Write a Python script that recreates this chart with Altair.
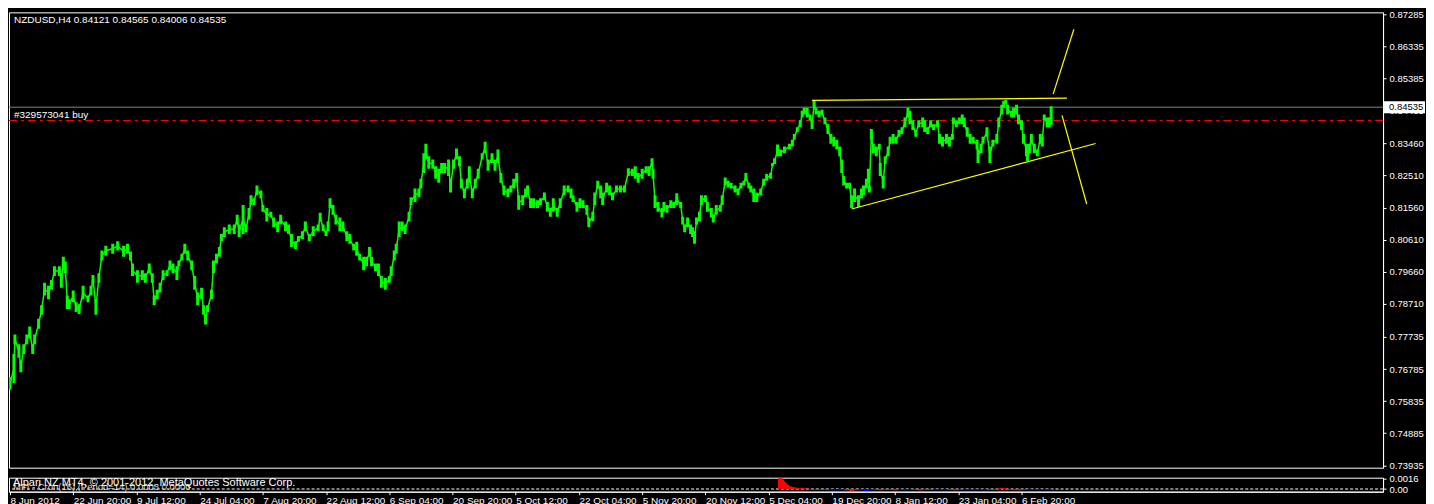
import altair as alt
import pandas as pd

# ---------------- data ----------------
header = "NZDUSD,H4  0.84121 0.84565 0.84006 0.84535"
order_label = "#329573041 buy"
copyright_label = "Alpari NZ MT4, \u00a9 2001-2012, MetaQuotes Software Corp."
indicator_label = "MFI - Cron(16),(Period=14) 0.0003 0.0000"

bar_x = [3, 7, 8, 12, 14, 17, 20, 23, 26, 28, 32, 35, 38, 42, 45, 48, 53, 55, 57, 59,
         61, 63, 67, 70, 73, 77, 82, 85, 87, 90, 93, 96, 100, 107, 112, 118, 122, 125, 127, 132,
         137, 140, 144, 147, 149, 152, 155, 158, 162, 165, 168, 172, 174, 177, 180, 183, 187, 190, 193, 197,
         199, 201, 203, 207, 209, 212, 215, 217, 220, 225, 230, 233, 235, 239, 242, 245, 247, 250, 253, 257,
         259, 263, 267, 270, 274, 277, 282, 285, 288, 292, 295, 299, 302, 306, 310, 315, 317, 320, 323, 325,
         327, 330, 333, 337, 340, 344, 347, 351, 354, 357, 361, 364, 367, 369, 373, 376, 379, 383, 387, 389,
         392, 394, 397, 400, 403, 407, 409, 413, 417, 419, 422, 424, 427, 431, 434, 437, 440, 443, 447, 449,
         452, 455, 458, 460, 463, 466, 468, 471, 474, 477, 481, 484, 487, 491, 494, 497, 500, 503, 507, 510,
         513, 516, 518, 522, 525, 527, 530, 533, 537, 540, 544, 547, 550, 553, 557, 560, 564, 568, 571, 573,
         577, 580, 583, 587, 589, 593, 595, 598, 601, 603, 607, 610, 613, 617, 621, 625, 629, 633, 636, 639,
         643, 647, 650, 653, 654, 656, 659, 663, 665, 668, 672, 675, 678, 682, 684, 686, 689, 692, 694, 696,
         698, 701, 703, 707, 709, 713, 715, 718, 722, 724, 727, 730, 733, 737, 740, 743, 746, 748, 751, 753,
         756, 759, 763, 766, 769, 773, 775, 777, 780, 783, 787, 792, 795, 797, 800, 803, 805, 807, 810, 813,
         815, 817, 819, 822, 825, 828, 831, 834, 837, 840, 843, 845, 847, 850, 853, 855, 858, 862, 865, 867,
         870, 872, 873, 875, 877, 880, 883, 884, 887, 889, 892, 894, 897, 900, 903, 906, 909, 912, 914, 917,
         920, 923, 927, 929, 932, 935, 938, 942, 944, 947, 951, 954, 957, 958, 961, 964, 967, 969, 972, 975,
         978, 982, 983, 986, 988, 992, 995, 998, 1002, 1004, 1007, 1009, 1011, 1013, 1017, 1019, 1022, 1024, 1027, 1029,
         1032, 1033, 1035, 1037, 1040, 1043, 1046, 1048, 1050, 1053, 1055, 1057]

bar_hi = [0.7654, 0.7723, 0.7781, 0.7752, 0.7703, 0.7752, 0.7781, 0.7804, 0.7752, 0.7781, 0.7827, 0.7867, 0.7934, 0.7925, 0.7942, 0.7983, 0.7983, 0.7962, 0.8011, 0.7997,
          0.7896, 0.7885, 0.7911, 0.7876, 0.7870, 0.7925, 0.7896, 0.7925, 0.7957, 0.7885, 0.7962, 0.8029, 0.8043, 0.8049, 0.8057, 0.8043, 0.8049, 0.8026, 0.7991, 0.7971,
          0.7971, 0.7962, 0.7991, 0.7962, 0.7896, 0.7913, 0.7934, 0.7971, 0.7971, 0.8000, 0.7991, 0.7983, 0.8000, 0.8020, 0.8049, 0.8029, 0.8000, 0.7954, 0.7905, 0.7919,
          0.7867, 0.7839, 0.7867, 0.7913, 0.8000, 0.8020, 0.8040, 0.8078, 0.8098, 0.8106, 0.8106, 0.8135, 0.8106, 0.8164, 0.8106, 0.8155, 0.8193, 0.8184, 0.8222, 0.8207,
          0.8164, 0.8155, 0.8144, 0.8127, 0.8115, 0.8135, 0.8115, 0.8106, 0.8078, 0.8057, 0.8072, 0.8086, 0.8115, 0.8078, 0.8101, 0.8106, 0.8141, 0.8106, 0.8086, 0.8115,
          0.8184, 0.8164, 0.8135, 0.8127, 0.8115, 0.8086, 0.8078, 0.8049, 0.8055, 0.8020, 0.8011, 0.8011, 0.8040, 0.8011, 0.7991, 0.7991, 0.7954, 0.7948, 0.7954, 0.7983,
          0.8029, 0.8049, 0.8115, 0.8115, 0.8106, 0.8144, 0.8187, 0.8213, 0.8213, 0.8242, 0.8317, 0.8345, 0.8308, 0.8299, 0.8279, 0.8271, 0.8288, 0.8288, 0.8299, 0.8242,
          0.8299, 0.8331, 0.8308, 0.8242, 0.8213, 0.8242, 0.8279, 0.8213, 0.8242, 0.8271, 0.8317, 0.8351, 0.8299, 0.8317, 0.8299, 0.8328, 0.8259, 0.8222, 0.8213, 0.8222,
          0.8242, 0.8259, 0.8193, 0.8193, 0.8213, 0.8222, 0.8184, 0.8184, 0.8178, 0.8184, 0.8201, 0.8173, 0.8155, 0.8184, 0.8155, 0.8184, 0.8222, 0.8222, 0.8213, 0.8193,
          0.8173, 0.8184, 0.8178, 0.8164, 0.8127, 0.8144, 0.8201, 0.8236, 0.8222, 0.8201, 0.8230, 0.8222, 0.8201, 0.8222, 0.8222, 0.8222, 0.8273, 0.8271, 0.8279, 0.8259,
          0.8271, 0.8279, 0.8279, 0.8302, 0.8271, 0.8193, 0.8173, 0.8155, 0.8173, 0.8164, 0.8178, 0.8173, 0.8199, 0.8173, 0.8129, 0.8106, 0.8127, 0.8106, 0.8098, 0.8086,
          0.8127, 0.8144, 0.8193, 0.8193, 0.8173, 0.8155, 0.8135, 0.8164, 0.8164, 0.8193, 0.8245, 0.8236, 0.8230, 0.8222, 0.8213, 0.8230, 0.8236, 0.8259, 0.8230, 0.8222,
          0.8213, 0.8201, 0.8213, 0.8242, 0.8256, 0.8259, 0.8288, 0.8302, 0.8343, 0.8328, 0.8337, 0.8345, 0.8357, 0.8374, 0.8394, 0.8415, 0.8443, 0.8452, 0.8452, 0.8432,
          0.8415, 0.8472, 0.8452, 0.8443, 0.8446, 0.8423, 0.8403, 0.8374, 0.8366, 0.8357, 0.8337, 0.8299, 0.8250, 0.8230, 0.8230, 0.8193, 0.8213, 0.8193, 0.8213, 0.8222,
          0.8242, 0.8271, 0.8222, 0.8389, 0.8345, 0.8337, 0.8345, 0.8288, 0.8250, 0.8308, 0.8337, 0.8366, 0.8374, 0.8366, 0.8386, 0.8394, 0.8423, 0.8452, 0.8443, 0.8415,
          0.8386, 0.8415, 0.8423, 0.8415, 0.8394, 0.8415, 0.8403, 0.8415, 0.8374, 0.8366, 0.8374, 0.8366, 0.8374, 0.8423, 0.8415, 0.8423, 0.8432, 0.8423, 0.8394, 0.8374,
          0.8366, 0.8357, 0.8328, 0.8345, 0.8366, 0.8394, 0.8337, 0.8357, 0.8374, 0.8423, 0.8461, 0.8472, 0.8475, 0.8461, 0.8443, 0.8452, 0.8461, 0.8432, 0.8415, 0.8374,
          0.8345, 0.8308, 0.8345, 0.8374, 0.8345, 0.8328, 0.8374, 0.8366, 0.8432, 0.8423, 0.8423, 0.84565]

bar_lo = [0.7617, 0.7637, 0.7752, 0.7712, 0.7669, 0.7723, 0.7752, 0.7769, 0.7723, 0.7752, 0.7798, 0.7839, 0.7896, 0.7885, 0.7913, 0.7954, 0.7954, 0.7919, 0.7971, 0.7962,
          0.7856, 0.7856, 0.7876, 0.7847, 0.7841, 0.7885, 0.7876, 0.7896, 0.7934, 0.7839, 0.7934, 0.8000, 0.8014, 0.8020, 0.8029, 0.8011, 0.8020, 0.8000, 0.7954, 0.7934,
          0.7942, 0.7934, 0.7962, 0.7934, 0.7867, 0.7885, 0.7905, 0.7942, 0.7954, 0.7971, 0.7962, 0.7942, 0.7983, 0.8000, 0.8020, 0.8000, 0.7971, 0.7913, 0.7867, 0.7885,
          0.7839, 0.7810, 0.7847, 0.7885, 0.7962, 0.7991, 0.8011, 0.8057, 0.8069, 0.8078, 0.8078, 0.8106, 0.8069, 0.8078, 0.8083, 0.8121, 0.8164, 0.8164, 0.8193, 0.8184,
          0.8144, 0.8115, 0.8127, 0.8098, 0.8083, 0.8106, 0.8086, 0.8078, 0.8040, 0.8034, 0.8055, 0.8063, 0.8086, 0.8057, 0.8072, 0.8086, 0.8115, 0.8086, 0.8072, 0.8086,
          0.8155, 0.8135, 0.8106, 0.8086, 0.8086, 0.8057, 0.8049, 0.8029, 0.8014, 0.8000, 0.7971, 0.7983, 0.8011, 0.7983, 0.7968, 0.7954, 0.7919, 0.7913, 0.7934, 0.7954,
          0.8000, 0.8020, 0.8069, 0.8086, 0.8078, 0.8115, 0.8164, 0.8173, 0.8187, 0.8213, 0.8259, 0.8299, 0.8271, 0.8271, 0.8242, 0.8230, 0.8259, 0.8259, 0.8250, 0.8201,
          0.8271, 0.8299, 0.8279, 0.8213, 0.8184, 0.8213, 0.8230, 0.8184, 0.8213, 0.8242, 0.8299, 0.8317, 0.8265, 0.8288, 0.8265, 0.8288, 0.8230, 0.8193, 0.8187, 0.8201,
          0.8213, 0.8230, 0.8150, 0.8164, 0.8187, 0.8193, 0.8155, 0.8155, 0.8155, 0.8164, 0.8178, 0.8144, 0.8129, 0.8144, 0.8129, 0.8155, 0.8193, 0.8201, 0.8184, 0.8173,
          0.8144, 0.8155, 0.8155, 0.8135, 0.8098, 0.8115, 0.8164, 0.8213, 0.8184, 0.8164, 0.8201, 0.8193, 0.8178, 0.8201, 0.8201, 0.8201, 0.8250, 0.8250, 0.8242, 0.8230,
          0.8242, 0.8259, 0.8250, 0.8279, 0.8242, 0.8155, 0.8144, 0.8127, 0.8144, 0.8141, 0.8155, 0.8155, 0.8164, 0.8155, 0.8106, 0.8083, 0.8098, 0.8078, 0.8069, 0.8049,
          0.8106, 0.8115, 0.8164, 0.8173, 0.8144, 0.8127, 0.8112, 0.8135, 0.8144, 0.8164, 0.8222, 0.8216, 0.8213, 0.8201, 0.8193, 0.8213, 0.8222, 0.8236, 0.8213, 0.8201,
          0.8173, 0.8173, 0.8193, 0.8222, 0.8236, 0.8242, 0.8279, 0.8285, 0.8308, 0.8308, 0.8317, 0.8328, 0.8337, 0.8357, 0.8380, 0.8394, 0.8423, 0.8432, 0.8423, 0.8415,
          0.8389, 0.8452, 0.8432, 0.8423, 0.8429, 0.8403, 0.8374, 0.8345, 0.8337, 0.8328, 0.8308, 0.8259, 0.8222, 0.8213, 0.8213, 0.8155, 0.8173, 0.8158, 0.8184, 0.8193,
          0.8213, 0.8230, 0.8201, 0.8357, 0.8317, 0.8308, 0.8328, 0.8250, 0.8213, 0.8285, 0.8308, 0.8345, 0.8345, 0.8345, 0.8366, 0.8374, 0.8394, 0.8423, 0.8403, 0.8386,
          0.8366, 0.8394, 0.8394, 0.8380, 0.8374, 0.8394, 0.8386, 0.8394, 0.8345, 0.8337, 0.8345, 0.8337, 0.8357, 0.8403, 0.8394, 0.8403, 0.8403, 0.8394, 0.8366, 0.8345,
          0.8345, 0.8328, 0.8288, 0.8317, 0.8345, 0.8366, 0.8288, 0.8337, 0.8345, 0.8394, 0.8432, 0.8452, 0.8466, 0.8432, 0.8423, 0.8423, 0.8432, 0.8403, 0.8386, 0.8345,
          0.8308, 0.8294, 0.8317, 0.8345, 0.8317, 0.8308, 0.8345, 0.8337, 0.8415, 0.8394, 0.8394, 0.84006]

# y-axis tick labels
price_ticks = [0.87285, 0.86335, 0.85385, 0.84435, 0.83460, 0.82510, 0.81560, 0.80610,
               0.79660, 0.78710, 0.77735, 0.76785, 0.75835, 0.74885, 0.73935]
# x-axis tick labels and their bar positions
time_labels = ["8 Jun 2012", "22 Jun 20:00", "9 Jul 12:00", "24 Jul 04:00", "7 Aug 20:00",
               "22 Aug 12:00", "6 Sep 04:00", "20 Sep 20:00", "5 Oct 12:00", "22 Oct 04:00",
               "5 Nov 20:00", "20 Nov 12:00", "5 Dec 04:00", "19 Dec 20:00", "8 Jan 12:00",
               "23 Jan 04:00", "6 Feb 20:00"]
time_ticks = [3, 67, 131, 195, 259, 323, 387, 451, 515, 579, 643, 707, 771, 835, 899, 963, 1027]

bid_price = 0.84535
order_price = 0.8414

# trendlines drawn by hand on the chart (bar index, price)
tl_id = ["top", "top", "support", "support", "up", "up", "down", "down"]
tl_x = [815, 1073, 855, 1102, 1059, 1080, 1068, 1093]
tl_p = [0.84738, 0.84803, 0.8152, 0.8346, 0.8492, 0.8684, 0.8429, 0.8167]

# indicator histogram
ind_x = [783, 784, 785, 786, 787, 788, 789, 790, 792, 794, 796, 798, 800, 803, 806, 810,
         815, 820, 825, 830, 835, 840, 845, 850, 855, 860, 865, 870, 875, 880, 885, 890,
         895, 900, 905, 910, 915, 920, 925, 930, 935, 940, 945, 950, 955, 960, 965, 970,
         975, 980, 985, 990, 995, 1000, 1005, 1010, 1015, 1020, 1025, 1030, 1035, 1040, 1045, 1050, 1055]
ind_v = [0.0016, 0.00135, 0.00115, 0.0010, 0.00085, 0.0007, 0.0006, 0.0005, 0.0004, 0.0003, 0.00025, 0.0002, 0.00015, 0.0001, 0.0001, 0.00008,
         -0.0001, -0.0001, -0.0001, -0.0001, -0.0002, -0.0002, -0.0002, -0.0002, -0.0003, -0.0002, -0.0002, -0.0003, -0.0002, -0.0001, -0.0002, -0.0001,
         -0.0001, -0.0002, -0.0001, -0.0002, -0.0001, -0.0001, -0.0002, -0.0001, -0.0001, -0.0002, -0.0001, -0.0002, -0.0001, -0.0002, -0.0001, -0.0002,
         -0.0001, -0.0002, -0.0001, -0.0002, -0.0001, -0.0001, 0.0001, 0.0001, -0.0001, -0.0002, -0.0002, -0.0001, -0.0002, -0.0001, -0.0002, -0.0001, -0.0002]
ind_c = ["r"] * 16 + ["r", "r", "r", "r", "b", "b", "b", "r", "r", "r", "b", "b", "b", "r", "r", "r",
                       "r", "r", "b", "b", "b", "r", "r", "r", "r", "b", "b", "b", "r", "r", "r", "b",
                       "b", "b", "b", "b", "r", "r", "r", "r", "r", "r", "r", "r", "b", "b", "b", "b", "b"]

# ---------------- chart ----------------
W = 1376
H_MAIN = 456
H_IND = 14
X_DOM = [2, 1393]
Y_DOM = [0.73864, 0.87342]
FONT = "Liberation Sans"
GREEN = "#00FF00"

df = pd.DataFrame({"x": bar_x, "hi": bar_hi, "lo": bar_lo})
df["mid"] = (df["hi"] + df["lo"]) / 2

xs = alt.Scale(domain=X_DOM, nice=False, zero=False)
ys = alt.Scale(domain=Y_DOM, nice=False, zero=False)

price_axis = alt.Axis(
    orient="right", values=price_ticks, format=".5f", title=None, grid=False,
    labelColor="white", tickColor="white", domainColor="white", tickSize=3,
    labelFont=FONT, labelFontSize=9.5, labelPadding=3, labelFlush=False, labelOverlap=False)

base = alt.Chart(df)

bars = base.mark_rule(color=GREEN, strokeWidth=3, clip=True).encode(
    x=alt.X("x:Q", scale=xs, axis=None),
    y=alt.Y("hi:Q", scale=ys, axis=price_axis),
    y2="lo:Q",
)
mid_line = base.mark_line(color=GREEN, strokeWidth=1.5, clip=True).encode(
    x=alt.X("x:Q", scale=xs, axis=None), y=alt.Y("mid:Q", scale=ys, axis=price_axis)
)

lines_df = pd.DataFrame({"price": [bid_price, order_price], "kind": ["bid", "order"]})
bid_rule = alt.Chart(lines_df[lines_df.kind == "bid"]).mark_rule(
    color="#778899", strokeWidth=1).encode(y=alt.Y("price:Q", scale=ys, axis=price_axis))
order_rule = alt.Chart(lines_df[lines_df.kind == "order"]).mark_rule(
    color="#FF0000", strokeWidth=1, strokeDash=[8, 4, 3, 4]).encode(
    y=alt.Y("price:Q", scale=ys, axis=price_axis))

tl_df = pd.DataFrame({"id": tl_id, "x": tl_x, "p": tl_p})
trend = alt.Chart(tl_df).mark_line(color="#FFFF00", strokeWidth=1.2, clip=True).encode(
    x=alt.X("x:Q", scale=xs, axis=None), y=alt.Y("p:Q", scale=ys, axis=price_axis), detail="id:N")

price_box = alt.Chart(lines_df[lines_df.kind == "bid"]).mark_rect(
    color="white", height=12).encode(
    x=alt.value(W + 1), x2=alt.value(W + 42), y=alt.Y("price:Q", scale=ys, axis=price_axis))
price_txt = alt.Chart(lines_df[lines_df.kind == "bid"]).mark_text(
    color="black", align="left", baseline="middle", font=FONT, fontSize=9.5).encode(
    x=alt.value(W + 6), y=alt.Y("price:Q", scale=ys, axis=price_axis),
    text=alt.Text("price:Q", format=".5f"))

head_txt = alt.Chart(pd.DataFrame({"t": [header]})).mark_text(
    color="white", align="left", baseline="middle", font=FONT, fontSize=10).encode(
    x=alt.value(5), y=alt.value(8), text="t:N")
order_txt = alt.Chart(pd.DataFrame({"t": [order_label], "price": [order_price]})).mark_text(
    color="white", align="left", baseline="bottom", font=FONT, fontSize=10, dy=-1).encode(
    x=alt.value(5), y=alt.Y("price:Q", scale=ys, axis=price_axis), text="t:N")

main = alt.layer(bid_rule, order_rule, bars, mid_line, trend, price_box, price_txt,
                 head_txt, order_txt).properties(width=W, height=H_MAIN)

# indicator panel
ind_df = pd.DataFrame({"x": ind_x, "v": ind_v, "c": ind_c})
iys = alt.Scale(domain=[-0.0004, 0.0017], nice=False, zero=False)
label_expr = str(time_labels).replace('"', "'") + "[round((datum.value - 3) / 64)]"

time_axis = alt.Axis(
    orient="bottom", values=time_ticks, labelExpr=label_expr, title=None, grid=False,
    labelColor="white", tickColor="white", domainColor="white", tickSize=3,
    labelAlign="left", labelBaseline="top", labelPadding=1, labelFont=FONT,
    labelFontSize=10, labelFlush=False, labelOverlap=False)
ind_axis = alt.Axis(
    orient="right", values=[0.0016, 0], labelExpr="datum.value == 0 ? '0.00' : '0.0016'",
    title=None, grid=False, labelColor="white", tickColor="white", domainColor="white",
    tickSize=3, labelFont=FONT, labelFontSize=9.5, labelPadding=3, labelFlush=False,
    labelOverlap=False)

ind_bars = alt.Chart(ind_df).mark_rule(strokeWidth=5, clip=True).encode(
    x=alt.X("x:Q", scale=xs, axis=time_axis),
    y=alt.Y("v:Q", scale=iys, axis=ind_axis),
    y2=alt.datum(0),
    color=alt.Color("c:N", scale=alt.Scale(domain=["r", "b"], range=["#FF0000", "#0000FF"]), legend=None),
)
zero_rule = alt.Chart(pd.DataFrame({"z": [0]})).mark_rule(
    color="white", strokeDash=[3, 2], strokeWidth=1).encode(y=alt.Y("z:Q", scale=iys, axis=ind_axis))
ind_txt1 = alt.Chart(pd.DataFrame({"t": [indicator_label]})).mark_text(
    color="#DDDDDD", align="left", baseline="middle", font=FONT, fontSize=9.5).encode(
    x=alt.value(4), y=alt.value(9), text="t:N")
ind_txt2 = alt.Chart(pd.DataFrame({"t": [copyright_label]})).mark_text(
    color="white", align="left", baseline="middle", font=FONT, fontSize=11).encode(
    x=alt.value(4), y=alt.value(5), text="t:N")

indicator = alt.layer(zero_rule, ind_bars, ind_txt1, ind_txt2).properties(width=W, height=H_IND)

chart = alt.vconcat(main, indicator, spacing=2).properties(
    padding={"left": 0, "top": 0, "right": 0, "bottom": 0},
    background="black",
).configure_view(stroke="white", strokeWidth=1).configure_concat(
    spacing=2).configure_axis(labelOverlap=False)

chart.save("out.html", embed_options={"renderer": "svg", "actions": False})
